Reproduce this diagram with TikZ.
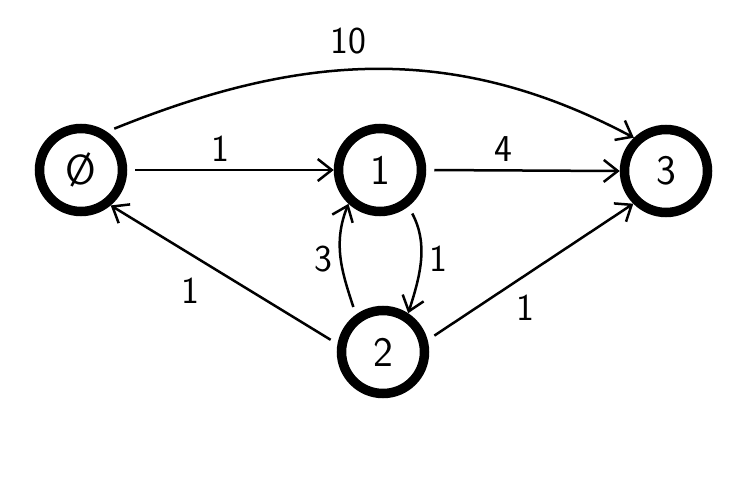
\documentclass[tikz,border=0pt]{standalone}
\usetikzlibrary{arrows.meta,positioning}
\tikzset{
  state/.style={circle,draw,line width=9.5pt,minimum size=83pt,inner sep=0pt,font=\fontsize{42}{46}\selectfont\sffamily},
  edge/.style={line width=2.5pt,-{Straight Barb[length=14pt,width=22pt,line width=2.5pt]},shorten <=8pt},
  weight/.style={font=\fontsize{38}{42}\selectfont\sffamily}
}
\begin{document}
\begin{tikzpicture}[x=1pt,y=-1pt]
		\useasboundingbox (0,0) rectangle (750,501);
		
		\node[state] (n0) at (81,170) {\O};
		\node[state] (n1) at (380,170) {1};
		\node[state] (n2) at (383,352) {2};
		\node[state] (n3) at (666,171) {3};
		
		\draw[edge] (n0.east) -- (n1.west) node[weight,pos=0.45,above=4pt] {1};
		\draw[edge] (n1.east) -- (n3.west) node[weight,pos=0.4,above=4pt] {4};
		\draw[edge] (n0.56) to[out=22,in=152] node[weight,pos=0.45,above=12pt] {10} (n3.134);
		\draw[edge] (n2.170) -- (n0.-50) node[weight,pos=0.58,below left=10pt and 2pt] {1};
		\draw[edge] (n2.15) -- (n3.-135) node[weight,pos=0.4,below right=5pt and 2pt] {1};
		\draw[edge] (n1.-52) to[out=-62,in=72] node[weight,right=4pt] {1} (n2.57);
		\draw[edge] (n2.126) to[out=108,in=-112] node[weight,left=4pt] {3} (n1.-133);
	\end{tikzpicture}
\end{document}
